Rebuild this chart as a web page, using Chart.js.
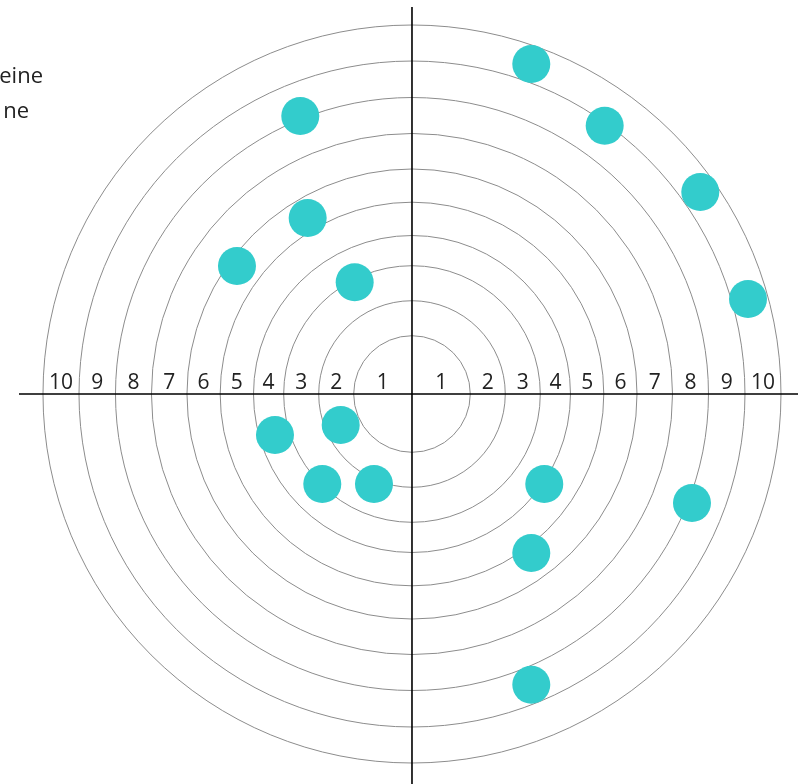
<!DOCTYPE html>
<html>
<head>
<meta charset="utf-8">
<script src="https://cdn.jsdelivr.net/npm/chart.js@4.4.0/dist/chart.umd.min.js"></script>
<style>
  html, body { margin: 0; padding: 0; background: #ffffff; overflow: hidden; }
  #c { display: block; }
</style>
</head>
<body>
<canvas id="c" width="798" height="784"></canvas>
<script>
// ---- data ----
const ringRadii = [1.58, 2.528, 3.477, 4.295, 5.198, 6.098, 7.06, 8.035, 9.024, 10];
const ringLabels = ['1', '2', '3', '4', '5', '6', '7', '8', '9', '10'];
const pointX = [3.233, 5.222, 7.813, 9.106, -3.027, -2.827, -4.743, -1.553, -1.932, -3.713, -2.431, -1.030, 3.585, 3.233, 3.233, 7.588];
const pointY = [8.943, 7.271, 5.474, 2.575, 7.534, 4.770, 3.469, 3.027, -0.840, -1.111, -2.439, -2.439, -2.439, -4.309, -7.878, -2.954];
const legendTexts = ['eine', 'ne'];

const points = pointX.map((x, i) => ({ x: x, y: pointY[i] }));

const FONT = '400 21px "Open Sans", "Noto Sans", sans-serif';

const targetPlugin = {
  id: 'target',
  beforeDatasetsDraw(chart) {
    const ctx = chart.ctx;
    const xs = chart.scales.x, ys = chart.scales.y;
    const ca = chart.chartArea;
    const cx = xs.getPixelForValue(0);
    const cy = ys.getPixelForValue(0);
    ctx.save();
    // rings
    ctx.strokeStyle = '#8c8c8c';
    ctx.lineWidth = 1;
    ringRadii.forEach(r => {
      const rp = xs.getPixelForValue(r) - cx;
      ctx.beginPath();
      ctx.arc(cx, cy, rp, 0, Math.PI * 2);
      ctx.stroke();
    });
    // axes
    ctx.strokeStyle = '#000000';
    ctx.lineWidth = 1.6;
    ctx.beginPath();
    ctx.moveTo(ca.left, cy);
    ctx.lineTo(ca.right, cy);
    ctx.moveTo(cx, ca.top);
    ctx.lineTo(cx, ca.bottom);
    ctx.stroke();
    // ring labels (in the middle of each band, both sides)
    ctx.fillStyle = '#222222';
    ctx.font = FONT;
    ctx.textAlign = 'center';
    ctx.textBaseline = 'alphabetic';
    ringLabels.forEach((lab, i) => {
      const inner = i === 0 ? 0 : ringRadii[i - 1];
      const mid = (inner + ringRadii[i]) / 2;
      ctx.fillText(lab, xs.getPixelForValue(mid), cy - 5);
      ctx.fillText(lab, xs.getPixelForValue(-mid), cy - 5);
    });
    ctx.restore();
  },
  afterDraw(chart) {
    const ctx = chart.ctx;
    ctx.save();
    ctx.fillStyle = '#222222';
    ctx.font = '400 22px "Open Sans", "Noto Sans", sans-serif';
    ctx.textAlign = 'right';
    ctx.textBaseline = 'alphabetic';
    ctx.fillText(legendTexts[0], 43, 83);
    ctx.fillText(legendTexts[1], 29, 118);
    ctx.restore();
  }
};

new Chart(document.getElementById('c'), {
  type: 'scatter',
  data: {
    datasets: [{
      data: points,
      backgroundColor: '#33cccc',
      borderColor: '#33cccc',
      borderWidth: 0,
      pointRadius: 19,
      pointHoverRadius: 19,
      clip: false
    }]
  },
  options: {
    responsive: false,
    animation: false,
    devicePixelRatio: 1,
    layout: { autoPadding: false, padding: { left: 19, top: 7, right: 0, bottom: 0 } },
    plugins: { legend: { display: false }, tooltip: { enabled: false } },
    scales: {
      x: { type: 'linear', min: -10.650, max: 10.461, display: false },
      y: { type: 'linear', min: -10.569, max: 10.488, display: false }
    }
  },
  plugins: [targetPlugin]
});
</script>
</body>
</html>
